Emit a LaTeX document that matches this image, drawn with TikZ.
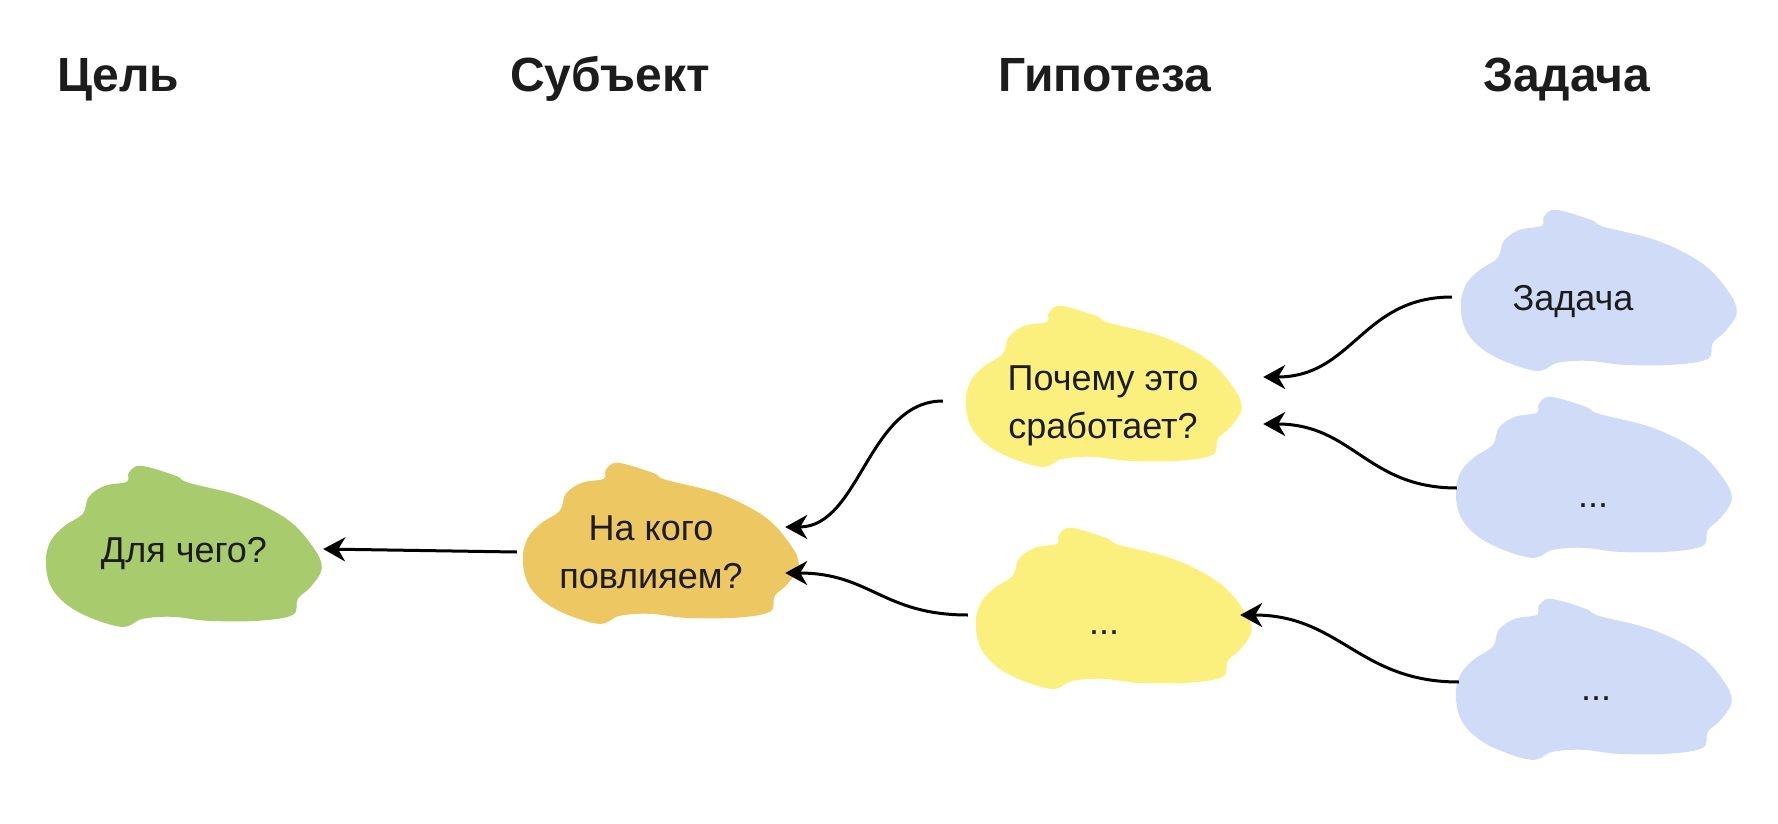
\documentclass[tikz,border=0pt]{standalone}
\usepackage{fontspec}
\setmainfont{Liberation Sans}
\usetikzlibrary{arrows.meta,calc}
\definecolor{cgreen}{HTML}{A8CB6E}
\definecolor{corange}{HTML}{EDC862}
\definecolor{cyellow}{HTML}{FBF07E}
\definecolor{cblue}{HTML}{D0DCF7}
\definecolor{ctext}{HTML}{1C1C1C}
\newcommand\cloudpath{plot[smooth cycle, tension=0.6] coordinates {
 (86,8) (98,1) (133,11) (146,18) (200,32) (245,55) (270,82) (279,103)
 (268,122) (255,134) (250,150) (215,156) (165,156) (130,152) (100,154)
 (78,162) (35,147) (10,125) (3,98) (8,76) (22,61) (40,49) (46,32) (62,21) (84,17)}}
\tikzset{
  box/.style={rectangle, minimum width=280pt, minimum height=163pt, inner sep=0pt},
  head/.style={anchor=base west, inner sep=0pt, text=ctext, font=\fontsize{48}{58}\selectfont\bfseries},
  label/.style={anchor=base, inner sep=0pt, text=ctext, align=center, font=\fontsize{36}{48}\selectfont},
  conn/.style={line width=3pt, -{Stealth[length=22pt,width=24pt,inset=7pt]}}
}
\begin{document}
\begin{tikzpicture}[x=1pt,y=-1pt]
\useasboundingbox (0,0) rectangle (1778,824);
% headers
\node[head] (hgoal) at (57,92) {Цель};
\node[head] (hsubj) at (510,92) {Субъект};
\node[head] (hhyp) at (998,92) {Гипотеза};
\node[head] (htask) at (1483,92) {Задача};
% cloud boxes
\node[box] (goal) at (183,546.5) {};
\node[box] (subj) at (660,543.5) {};
\node[box] (hypa) at (1103,386.5) {};
\node[box] (hypb) at (1113,608.5) {};
\node[box] (taska) at (1598,290.5) {};
\node[box] (taskb) at (1593,477.5) {};
\node[box] (taskc) at (1593,679.5) {};
% clouds
\fill[cgreen, shift={(goal.north west)}] \cloudpath;
\fill[corange, shift={(subj.north west)}] \cloudpath;
\fill[cyellow, shift={(hypa.north west)}] \cloudpath;
\fill[cyellow, shift={(hypb.north west)}] \cloudpath;
\fill[cblue, shift={(taska.north west)}] \cloudpath;
\fill[cblue, shift={(taskb.north west)}] \cloudpath;
\fill[cblue, shift={(taskc.north west)}] \cloudpath;
% labels
\node[label] (lgoal) at (184,562) {Для чего?};
\node[label] (lsubj) at (651,588) {На кого\\повлияем?};
\node[label] (lhypa) at (1103,438) {Почему это\\сработает?};
\node[label] (lhypb) at (1104,634) {...};
\node[label] (ltaska) at (1573,310) {Задача};
\node[label] (ltaskb) at (1593,507) {...};
\node[label] (ltaskc) at (1596,700) {...};
% connectors
\draw[conn] ($(subj.west)+(-3,8.5)$) -- ($(goal.east)+(0,2.5)$);
\draw[conn] ($(hypa.west)+(-20,14.5)$) .. controls +(-75,0) and +(75,0) .. ($(subj.east)+(-15,-16.5)$);
\draw[conn] ($(hypb.west)+(-5,6.5)$) .. controls +(-85,0) and +(85,0) .. ($(subj.east)+(-15,29.5)$);
\draw[conn] ($(taska.west)+(-6,6.5)$) .. controls +(-90,0) and +(90,0) .. ($(hypa.east)+(20,-9.5)$);
\draw[conn] ($(taskb.west)+(4,10.5)$) .. controls +(-90,0) and +(90,0) .. ($(hypa.east)+(20,37.5)$);
\draw[conn] ($(taskc.west)+(6,2.5)$) .. controls +(-100,0) and +(100,0) .. ($(hypb.east)+(-13,6.5)$);
\end{tikzpicture}
\end{document}
